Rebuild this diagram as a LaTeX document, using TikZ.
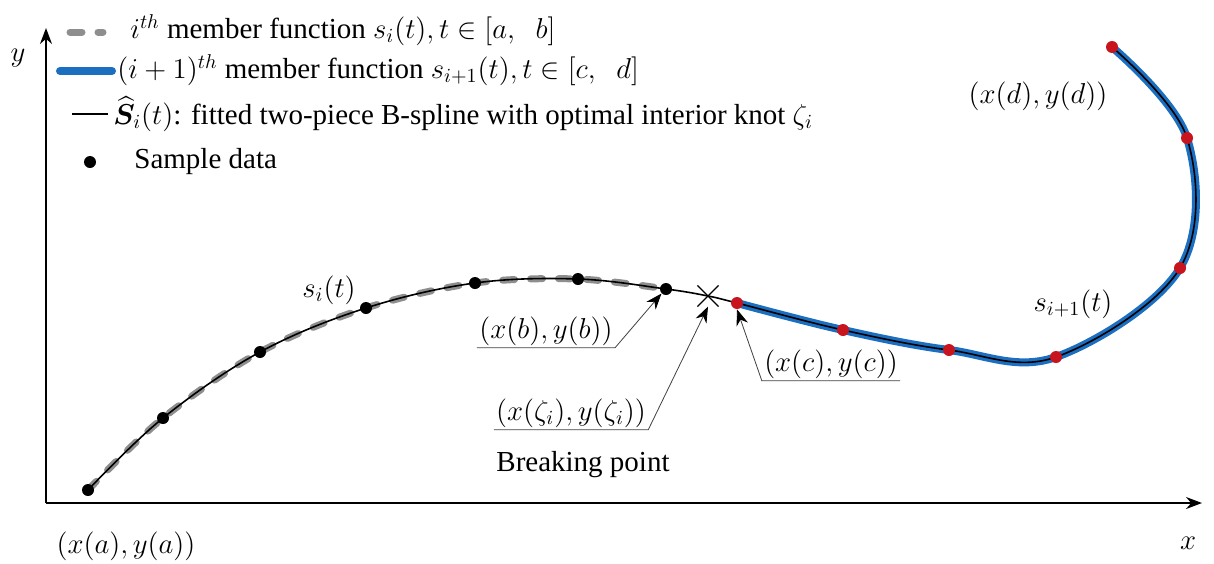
\documentclass[tikz,border=0pt]{standalone}
\usepackage{fontspec}
\setmainfont{Liberation Serif}
\usepackage{amsmath, bm}
\usetikzlibrary{arrows.meta, shapes.misc}
\definecolor{MemBlue}{HTML}{1C6EC0}
\definecolor{MemGray}{HTML}{8E8E8E}
\definecolor{KnotRed}{HTML}{C8141E}

\begin{document}
\begin{tikzpicture}[x=0.5pt, y=-0.5pt, font=\fontsize{14.5}{17}\selectfont,
  memi/.style={MemGray, line width=3.5pt, dash pattern=on 6pt off 8pt, line cap=round},
  memnext/.style={MemBlue, line width=4pt, line cap=round},
  fitline/.style={black, line width=0.8pt},
  leader/.style={black!75, line width=0.4pt},
  tip/.style={-{Stealth[length=8pt, width=6pt, color=black, fill=black]}},
  sample/.style={circle, fill=black, inner sep=0pt, minimum size=6pt},
  knot/.style={circle, fill=KnotRed, inner sep=0pt, minimum size=6pt},
  lbl/.style={inner sep=1pt, font=\fontsize{14.5}{17}\selectfont},
  legtext/.style={anchor=west, inner sep=0pt}]
  \useasboundingbox (0,0) rectangle (1214,563);
  % Axes
  \coordinate (O) at (46,503);
  \coordinate (ytip) at (46,28);
  \coordinate (xtip) at (1202,503);
  \draw[-{Stealth[length=8pt, width=6pt]}, line width=0.8pt] (O) -- (ytip);
  \draw[-{Stealth[length=8pt, width=6pt]}, line width=0.8pt] (O) -- (xtip);
  \node (ylab) at (18,58) {$y$};
  \node (xlab) at (1188,543) {$x$};
  % Member functions and fitted spline
  \draw[memi] plot[smooth, tension=0.55] coordinates {(88,490) (163,418) (260,352) (366,308) (475,283) (578,279) (666,289)};
  \draw[memnext] plot[smooth, tension=0.6] coordinates {(737,303) (843,330) (949,350) (1056,357) (1180,268) (1187,138) (1112,47)};
  \draw[fitline] plot[smooth, tension=0.6] coordinates {(88,490) (163,418) (260,352) (366,308) (475,283) (578,279) (666,289) (708,296) (737,303) (843,330) (949,350) (1056,357) (1180,268) (1187,138) (1112,47)};
  % Sample data
  \foreach \p/\xx/\yy in {1/88/490, 2/163/418, 3/260/352, 4/366/308, 5/475/283, 6/578/279, 7/666/289} {
    \node[sample] (s\p) at (\xx,\yy) {};
  }
  \foreach \p/\xx/\yy in {1/737/303, 2/843/330, 3/949/350, 4/1056/357, 5/1180/268, 6/1187/138, 7/1112/47} {
    \node[knot] (k\p) at (\xx,\yy) {};
  }
  % Breaking point
  \node[draw, cross out, line width=0.6pt, minimum size=10pt, inner sep=0pt] (brk) at (708,296) {};
  % Curve labels
  \node[lbl] (si) at (329,290) {$s_i(t)$};
  \node[lbl] (snext) at (1073,304) {$s_{i+1}(t)$};
  \node[lbl] (la) at (126,546) {$(x(a),y(a))$};
  \node[lbl] (ld) at (1038,96) {$(x(d),y(d))$};
  \node[lbl] (lb) at (546,331) {$(x(b),y(b))$};
  \node[lbl] (lz) at (571,413) {$(x(\zeta_i),y(\zeta_i))$};
  \node (brklab) at (583,465) {Breaking point};
  \node[lbl] (lc) at (831,364) {$(x(c),y(c))$};
  \draw[leader, tip] (lb.south west) -- (lb.south east) -- (s7.south west);
  \draw[leader, tip] (lz.south west) -- (lz.south east) -- (brk.south);
  \draw[leader, tip] (lc.south east) -- (lc.south west) -- (k1.south);
  % Legend
  \draw[memi] (70,32) -- (103,32);
  \node[legtext] (leg1) at (130,30) {$i^{th}$ member function $s_i(t), t\in[a,\;\; b]$};
  \draw[memnext] (60,71) -- (112,71);
  \node[legtext] (leg2) at (117,70) {$(i+1)^{th}$ member function $s_{i+1}(t), t\in[c,\;\; d]$};
  \draw[fitline] (72,114) -- (108,114);
  \node[legtext] (leg3) at (113,114) {$\widehat{\bm{S}}_i(t)$: fitted two-piece B-spline with optimal interior knot $\zeta_i$};
  \node[sample] (legdot) at (90,162) {};
  \node[legtext] (leg4) at (134,162) {Sample data};
\end{tikzpicture}
\end{document}
